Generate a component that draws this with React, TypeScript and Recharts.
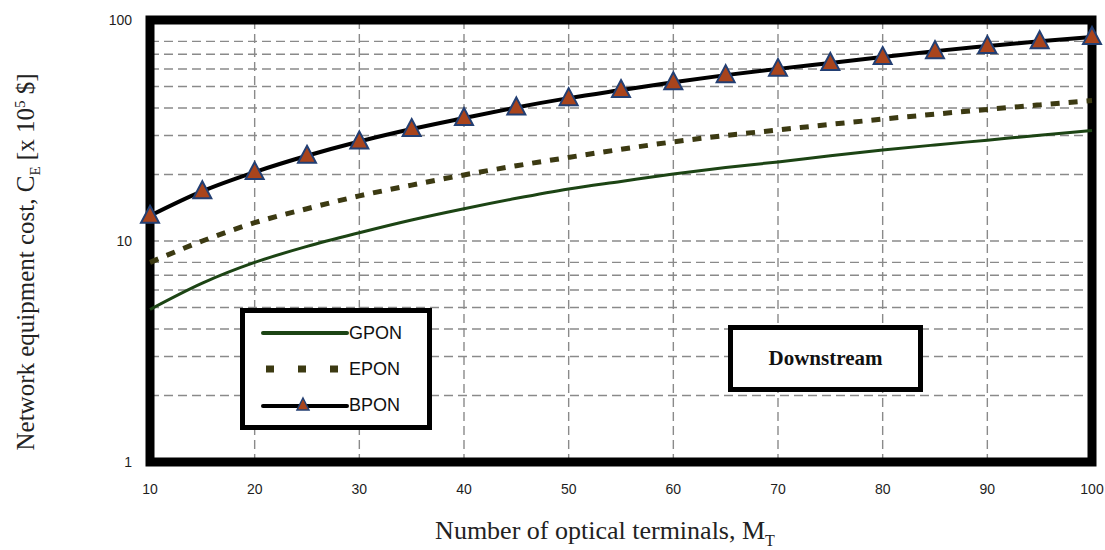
import { LineChart, Line, XAxis, YAxis, CartesianGrid, ReferenceArea } from 'recharts';

// number of optical terminals
const terminals = [10, 15, 20, 25, 30, 35, 40, 45, 50, 55, 60, 65, 70, 75, 80, 85, 90, 95, 100];

// equipment cost, x 10^5 $
const gpon = [4.9, 6.45, 8.0, 9.45, 10.9, 12.45, 14.0, 15.6, 17.2, 18.6, 20.1, 21.5, 22.8, 24.3, 25.8, 27.2, 28.6, 30.1, 31.6];
const epon = [8.0, 10.0, 12.1, 14.0, 16.0, 17.9, 19.9, 21.9, 23.9, 26.0, 28.1, 30.0, 31.8, 33.7, 35.6, 37.5, 39.4, 41.3, 43.2];
const bpon = [13.0, 16.8, 20.5, 24.3, 28.2, 32.1, 36.0, 40.2, 44.3, 48.2, 52.3, 56.3, 60.1, 63.9, 68.0, 72.3, 76.2, 80.2, 83.8];

const xTicks = [10, 20, 30, 40, 50, 60, 70, 80, 90, 100];
const yTicks = [1, 2, 3, 4, 5, 6, 7, 8, 9, 10, 20, 30, 40, 50, 60, 70, 80, 90, 100];
const yLabels = [1, 10, 100];

const rows = terminals.map((m, i) => ({ m, GPON: gpon[i], EPON: epon[i], BPON: bpon[i] }));

const GREEN = '#1c4414';
const OLIVE = '#3c3a12';
const TRI_FILL = '#a9441c';
const TRI_EDGE = '#233f73';

const Triangle = ({ cx, cy }: { cx?: number; cy?: number }) => {
  if (cx == null || cy == null) return null;
  return (
    <path
      d={`M${cx},${cy - 10} L${cx + 9},${cy + 7} L${cx - 9},${cy + 7} Z`}
      fill={TRI_FILL}
      stroke={TRI_EDGE}
      strokeWidth={2}
    />
  );
};

const tickStyle = { fontFamily: '"Liberation Sans", Arial, sans-serif', fontSize: 14, fill: '#1e1e1e' };

function LegendBox() {
  const row = { display: 'flex', alignItems: 'center', height: 36 };
  const text = { fontFamily: '"Liberation Sans", Arial, sans-serif', fontSize: 18, color: '#111', marginLeft: 0 };
  return (
    <div
      style={{
        position: 'absolute', left: 240, top: 308, width: 166, height: 110,
        border: '5px solid #000', background: '#fff', padding: '2px 0 0 16px', boxSizing: 'content-box',
      }}
    >
      <div style={row}>
        <svg width={88} height={12}><line x1={2} y1={6} x2={86} y2={6} stroke={GREEN} strokeWidth={4} strokeLinecap="round" /></svg>
        <span style={text}>GPON</span>
      </div>
      <div style={row}>
        <svg width={88} height={12}>
          <line x1={5} y1={6} x2={86} y2={6} stroke={OLIVE} strokeWidth={7} strokeDasharray="8 24" />
        </svg>
        <span style={text}>EPON</span>
      </div>
      <div style={row}>
        <svg width={88} height={20}>
          <line x1={2} y1={11} x2={86} y2={11} stroke="#000" strokeWidth={4} strokeLinecap="round" />
          <path d="M42,3 L48,15 L36,15 Z" fill={TRI_FILL} stroke={TRI_EDGE} strokeWidth={1.5} />
        </svg>
        <span style={text}>BPON</span>
      </div>
    </div>
  );
}

export default function App() {
  return (
    <div style={{ position: 'absolute', left: 0, top: 0, width: 1105, height: 550, background: '#fff' }}>
      <LineChart width={1105} height={550} data={rows} margin={{ top: 20, right: 13, bottom: 58, left: 90 }}>
        <CartesianGrid stroke="#8a8a8a" strokeWidth={1.4} strokeDasharray="9 5" horizontalValues={yTicks} verticalValues={xTicks} />
        <XAxis
          type="number"
          dataKey="m"
          domain={[10, 100]}
          ticks={xTicks}
          tick={tickStyle}
          tickLine={false}
          axisLine={false}
          tickMargin={16}
          height={30}
        />
        <YAxis
          type="number"
          scale="log"
          domain={[1, 100]}
          ticks={yTicks}
          allowDataOverflow
          tick={tickStyle}
          tickFormatter={(v: number) => (yLabels.includes(v) ? String(v) : '')}
          tickLine={false}
          axisLine={false}
          tickMargin={12}
          width={60}
        />
        <ReferenceArea x1={10} x2={100} y1={1} y2={100} fill="none" stroke="#000" strokeWidth={9} ifOverflow="visible" />
        <Line type="monotone" dataKey="GPON" stroke={GREEN} strokeWidth={3} dot={false} isAnimationActive={false} />
        <Line type="monotone" dataKey="EPON" stroke={OLIVE} strokeWidth={5} strokeDasharray="9 9" dot={false} isAnimationActive={false} />
        <Line type="monotone" dataKey="BPON" stroke="#000" strokeWidth={4} dot={<Triangle />} activeDot={false} isAnimationActive={false} />
      </LineChart>

      <LegendBox />

      <div
        style={{
          position: 'absolute', left: 728, top: 325, width: 185, height: 57,
          border: '5px solid #000', background: '#fff', display: 'flex', alignItems: 'center', justifyContent: 'center',
          fontFamily: '"Liberation Serif", "Times New Roman", serif', fontWeight: 'bold', fontSize: 21, color: '#111',
        }}
      >
        Downstream
      </div>

      <div
        style={{
          position: 'absolute', left: 28, top: 262, transform: 'translate(-50%, -50%) rotate(-90deg)', whiteSpace: 'nowrap',
          fontFamily: '"Liberation Serif", "Times New Roman", serif', fontSize: 25, color: '#222',
        }}
      >
        Network equipment cost, C<sub style={{ fontSize: 15 }}>E</sub> [x 10<sup style={{ fontSize: 15 }}>5</sup> $]
      </div>

      <div
        style={{
          position: 'absolute', left: 605, top: 533, transform: 'translate(-50%, -50%)', whiteSpace: 'nowrap',
          fontFamily: '"Liberation Serif", "Times New Roman", serif', fontSize: 26, color: '#222',
        }}
      >
        Number of optical terminals, M<sub style={{ fontSize: 16 }}>T</sub>
      </div>
    </div>
  );
}
